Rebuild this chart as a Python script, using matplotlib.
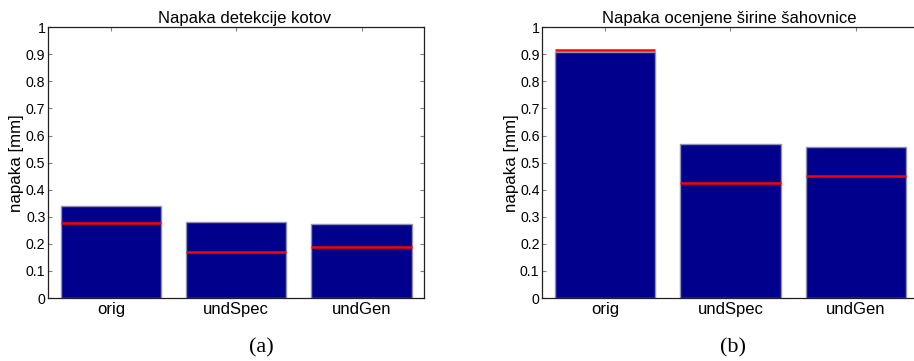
import matplotlib.pyplot as plt

# metode
labels = ['orig', 'undSpec', 'undGen']

# napaka detekcije kotov [mm]
kotov_napaka = [0.34, 0.28, 0.272]
kotov_crta = [0.278, 0.169, 0.188]

# napaka ocenjene sirine sahovnice [mm]
sirina_napaka = [0.909, 0.568, 0.557]
sirina_crta = [0.917, 0.424, 0.452]

plt.rcParams['font.family'] = ['Liberation Sans', 'DejaVu Sans']

fig = plt.figure(figsize=(9.14, 3.61), dpi=100)
ax1 = fig.add_axes([0.0528, 0.1745, 0.4114, 0.75])
ax2 = fig.add_axes([0.5934, 0.1745, 0.4114, 0.75])


def narisi(ax, vrednosti, crte, naslov, naslov_x):
    pos = [1, 2, 3]
    ax.bar(pos, vrednosti, width=0.8, color='#00008c',
           edgecolor='#9090b0', linewidth=1.0, zorder=2)
    # rdece crte cez stolpce
    for x, c in zip(pos, crte):
        ax.hlines(c, x - 0.4, x + 0.4, colors='#ff0000', linewidth=1.8, zorder=3)
    ax.set_xlim(0.5, 3.5)
    ax.set_ylim(0, 1)
    ax.set_xticks(pos)
    ax.set_xticklabels(labels, fontsize=12)
    ax.set_yticks([i / 10 for i in range(11)])
    ax.set_yticklabels(['0', '0.1', '0.2', '0.3', '0.4', '0.5',
                        '0.6', '0.7', '0.8', '0.9', '1'], fontsize=10.2)
    ax.tick_params(direction='in', length=3, width=0.8, color='#808080',
                   top=True, right=True, pad=2)
    ax.tick_params(axis='x', pad=3)
    for s in ax.spines.values():
        s.set_color('#202020')
        s.set_linewidth(0.9)
    ax.set_ylabel('napaka [mm]', fontsize=12.2, labelpad=1)
    ax.set_title(naslov, fontsize=12, pad=3, x=naslov_x)


narisi(ax1, kotov_napaka, kotov_crta, 'Napaka detekcije kotov', 0.522)
narisi(ax2, sirina_napaka, sirina_crta, 'Napaka ocenjene širine šahovnice', 0.496)

# oznake podslik
fig.text(261 / 914, 0.036, '(a)', ha='center', va='center',
         fontsize=16, family='Liberation Serif')
fig.text(733 / 914, 0.036, '(b)', ha='center', va='center',
         fontsize=16, family='Liberation Serif')

fig.savefig('out.png', dpi=100)
